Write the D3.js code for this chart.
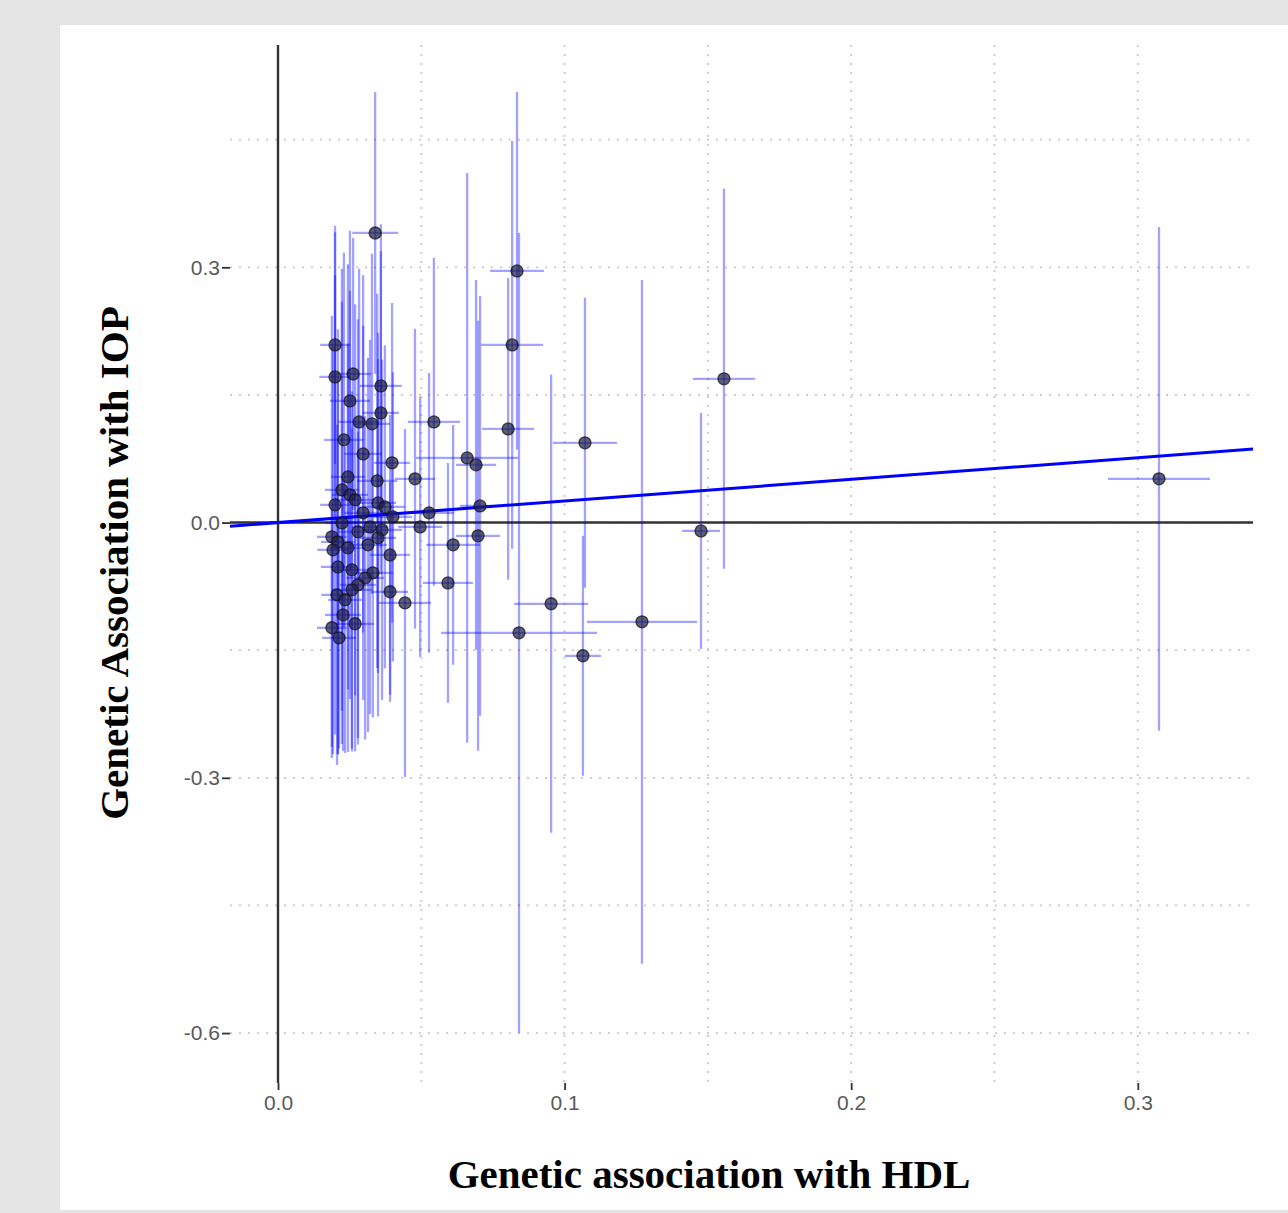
<!DOCTYPE html>
<html><head><meta charset="utf-8">
<script src="https://cdn.jsdelivr.net/npm/d3@7"></script>
<style>html,body{margin:0;padding:0;background:#e5e5e5;}svg{display:block;}</style>
</head><body>
<svg id="c" width="1288" height="1213"></svg>
<script>
// SNP effect estimates (HDL on x, IOP on y) and error-bar half widths
const hdl = [0.0339,0.0834,0.0817,0.1556,0.1071,0.3074,0.1476,0.1270,0.1064,0.0953,
  0.0841,0.0803,0.0544,0.0660,0.0691,0.0705,0.0478,0.0527,0.0496,0.0698,
  0.0611,0.0593,0.0443,0.0391,0.0391,0.0398,
  0.0199,0.0199,0.0262,0.0359,0.0251,0.0359,0.0283,0.0328,0.0230,0.0297,
  0.0244,0.0346,0.0223,0.0251,0.0269,0.0199,0.0297,0.0349,0.0373,0.0401,
  0.0223,0.0321,0.0279,0.0363,0.0188,0.0209,0.0349,0.0244,0.0314,0.0192,
  0.0209,0.0258,0.0331,0.0304,0.0279,0.0258,0.0206,0.0234,0.0227,0.0269,
  0.0188,0.0213];
const iop = [0.3404,0.2958,0.2088,0.1689,0.0937,0.0514,-0.0098,-0.1167,-0.1566,-0.0955,
  -0.1296,0.1101,0.1183,0.0760,0.0678,0.0196,0.0514,0.0114,-0.0051,-0.0156,
  -0.0262,-0.0709,-0.0944,-0.0814,-0.0380,0.0702,
  0.2088,0.1712,0.1747,0.1606,0.1430,0.1289,0.1183,0.1160,0.0972,0.0807,
  0.0537,0.0490,0.0384,0.0326,0.0267,0.0208,0.0114,0.0231,0.0184,0.0067,
  -0.0004,-0.0051,-0.0109,-0.0086,-0.0168,-0.0227,-0.0180,-0.0297,-0.0262,-0.0321,
  -0.0521,-0.0556,-0.0591,-0.0650,-0.0732,-0.0791,-0.0850,-0.0908,-0.1085,-0.1190,
  -0.1237,-0.1355];
const errHdl = [0.0080,0.0094,0.0108,0.0108,0.0112,0.0178,0.0066,0.0192,0.0063,0.0129,
  0.0272,0.0091,0.0091,0.0178,0.0070,0.0070,0.0070,0.0087,0.0077,0.0077,
  0.0094,0.0087,0.0091,0.0063,0.0070,0.0063,
  0.0052,0.0055,0.0063,0.0073,0.0070,0.0063,0.0073,0.0063,0.0070,0.0066,
  0.0059,0.0070,0.0059,0.0063,0.0070,0.0052,0.0066,0.0063,0.0070,0.0066,
  0.0059,0.0063,0.0066,0.0070,0.0052,0.0059,0.0063,0.0063,0.0066,0.0055,
  0.0059,0.0063,0.0070,0.0066,0.0063,0.0070,0.0055,0.0059,0.0063,0.0066,
  0.0052,0.0059];
const errIop = [0.1657,0.2103,0.2397,0.2233,0.1704,0.2961,0.1387,0.4019,0.1410,0.2691,
  0.4700,0.1774,0.1927,0.3349,0.2174,0.2468,0.1763,0.1645,0.1528,0.2527,
  0.1410,0.1410,0.2045,0.1293,0.1645,0.1880,
  0.14,0.17,0.16,0.19,0.20,0.19,0.18,0.20,0.22,0.21,
  0.25,0.22,0.26,0.24,0.23,0.27,0.22,0.20,0.19,0.17,
  0.26,0.22,0.25,0.20,0.26,0.25,0.21,0.24,0.22,0.24,
  0.22,0.21,0.17,0.19,0.18,0.19,0.20,0.18,0.16,0.15,
  0.14,0.13];
// IVW regression line
const ivwSlope = 0.254, ivwIntercept = 0.0;
const xTicks = [0.0, 0.1, 0.2, 0.3];
const yTicks = [0.3, 0.0, -0.3, -0.6];
const xMinor = [0.05, 0.15, 0.25];
const yMinor = [0.45, 0.15, -0.15, -0.45];
const xTitle = "Genetic association with HDL";
const yTitle = "Genetic Association with IOP";

const data = hdl.map((d, i) => ({x: d, y: iop[i], ex: errHdl[i], ey: errIop[i]}));

const svg = d3.select("#c");
const L = 230, R = 1253, T = 45, B = 1083;
const x = d3.scaleLinear().domain([-0.01675, 0.3402]).range([L, R]);
const y = d3.scaleLinear().domain([-0.6587, 0.5613]).range([B, T]);

svg.append("rect").attr("x", 60).attr("y", 25).attr("width", 1228).attr("height", 1185).attr("fill", "#fff");

const grid = svg.append("g").attr("stroke", "#c8c8c8").attr("stroke-width", 1.8).attr("stroke-dasharray", "2,7");
grid.selectAll(".gx").data(xTicks.concat(xMinor).filter(d => d > 0)).join("line")
  .attr("x1", d => x(d)).attr("x2", d => x(d)).attr("y1", T).attr("y2", B);
grid.selectAll(".gy").data(yTicks.concat(yMinor)).join("line")
  .attr("y1", d => y(d)).attr("y2", d => y(d)).attr("x1", L).attr("x2", R);

// axes ticks + labels
const fmt = d => d.toFixed(1);
const xAxis = svg.append("g").attr("transform", `translate(0,${B})`)
  .call(d3.axisBottom(x).tickValues(xTicks).tickFormat(fmt).tickSize(7).tickPadding(5));
const yAxis = svg.append("g").attr("transform", `translate(${L},0)`)
  .call(d3.axisLeft(y).tickValues(yTicks).tickFormat(fmt).tickSize(8).tickPadding(2));
[xAxis, yAxis].forEach(a => {
  a.select(".domain").remove();
  a.selectAll(".tick line").attr("stroke", "#333").attr("stroke-width", 1.8);
  a.selectAll(".tick text").attr("fill", "#5a5a5a").attr("font-family", "Liberation Sans, Arial, sans-serif").attr("font-size", 21);
});

// reference lines
svg.append("line").attr("x1", L).attr("x2", R).attr("y1", y(0)).attr("y2", y(0))
  .attr("stroke", "#333").attr("stroke-width", 2.6);
svg.append("line").attr("x1", x(0)).attr("x2", x(0)).attr("y1", T).attr("y2", B)
  .attr("stroke", "#333").attr("stroke-width", 2.4);

// error bars
const eb = svg.append("g").attr("stroke", "#0000ff").attr("stroke-opacity", 0.36).attr("stroke-width", 2.3);
eb.selectAll(".v").data(data).join("line")
  .attr("x1", d => x(d.x)).attr("x2", d => x(d.x))
  .attr("y1", d => y(d.y - d.ey)).attr("y2", d => y(d.y + d.ey));
eb.selectAll(".h").data(data).join("line")
  .attr("y1", d => y(d.y)).attr("y2", d => y(d.y))
  .attr("x1", d => x(d.x - d.ex)).attr("x2", d => x(d.x + d.ex));

// regression line
const xd = x.domain();
svg.append("line")
  .attr("x1", x(xd[0])).attr("y1", y(ivwIntercept + ivwSlope * xd[0]))
  .attr("x2", x(xd[1])).attr("y2", y(ivwIntercept + ivwSlope * xd[1]))
  .attr("stroke", "#0000ff").attr("stroke-width", 3);

// points
svg.append("g").selectAll("circle").data(data).join("circle")
  .attr("cx", d => x(d.x)).attr("cy", d => y(d.y)).attr("r", 6)
  .attr("fill", "#20204a").attr("fill-opacity", 0.72)
  .attr("stroke", "#111").attr("stroke-opacity", 0.7).attr("stroke-width", 1.4);

// titles
svg.append("text").attr("x", 709).attr("y", 1188).attr("text-anchor", "middle")
  .attr("font-family", "Liberation Serif, Times New Roman, serif").attr("font-weight", "bold")
  .attr("font-size", 41).attr("fill", "#000").text(xTitle);
svg.append("text").attr("transform", "translate(128,563) rotate(-90)").attr("text-anchor", "middle")
  .attr("font-family", "Liberation Serif, Times New Roman, serif").attr("font-weight", "bold")
  .attr("font-size", 41).attr("fill", "#000").text(yTitle);
</script>
</body></html>
